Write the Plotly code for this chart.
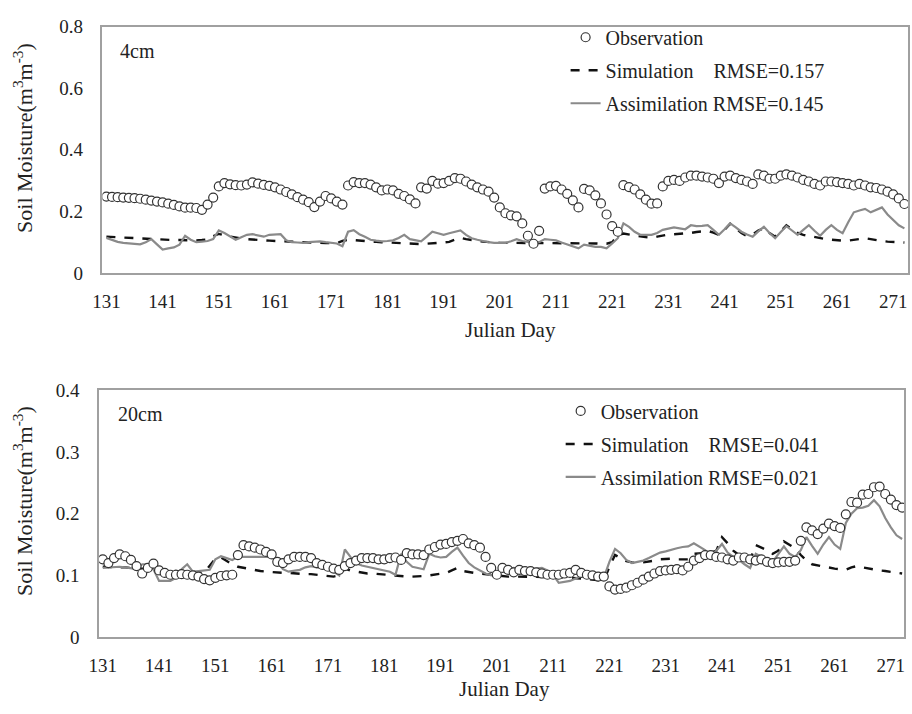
import plotly.graph_objects as go

# Julian days of the growing season (one value per day)
days = list(range(131, 274))

# ---- 4 cm layer ----
obs_4cm = [
    0.248, 0.247, 0.246, 0.245, 0.244, 0.243, 0.241, 0.238, 0.235, 0.232,
    0.229, 0.225, 0.221, 0.216, 0.212, 0.212, 0.211, 0.205, 0.222, 0.245,
    0.281, 0.292, 0.288, 0.285, 0.284, 0.287, 0.294, 0.290, 0.286, 0.283,
    0.278, 0.271, 0.263, 0.255, 0.246, 0.238, 0.230, 0.214, 0.232, 0.250,
    0.242, 0.232, 0.222, 0.284, 0.295, 0.292, 0.292, 0.287, 0.278, 0.268,
    0.271, 0.268, 0.257, 0.250, 0.239, 0.226, 0.278, 0.274, 0.299, 0.290,
    0.292, 0.299, 0.308, 0.306, 0.297, 0.287, 0.278, 0.271, 0.264, 0.245,
    0.213, 0.194, 0.187, 0.184, 0.161, 0.121, 0.095, 0.137, 0.274, 0.281,
    0.283, 0.271, 0.257, 0.236, 0.213, 0.273, 0.268, 0.252, 0.226, 0.190,
    0.152, 0.134, 0.285, 0.279, 0.271, 0.255, 0.238, 0.225, 0.226, 0.281,
    0.299, 0.302, 0.299, 0.310, 0.316, 0.316, 0.313, 0.310, 0.306, 0.292,
    0.313, 0.316, 0.308, 0.302, 0.297, 0.289, 0.320, 0.316, 0.306, 0.306,
    0.316, 0.320, 0.316, 0.310, 0.302, 0.297, 0.289, 0.284, 0.297, 0.297,
    0.295, 0.292, 0.289, 0.284, 0.289, 0.284, 0.278, 0.276, 0.271, 0.264,
    0.255, 0.242, 0.224,
]
sim_4cm = [
    0.118, 0.117, 0.115, 0.114, 0.113, 0.112, 0.111, 0.110, 0.110, 0.109,
    0.108, 0.108, 0.107, 0.107, 0.106, 0.106, 0.106, 0.107, 0.109, 0.120,
    0.127, 0.122, 0.118, 0.114, 0.112, 0.110, 0.108, 0.107, 0.106, 0.105,
    0.104, 0.103, 0.102, 0.101, 0.100, 0.100, 0.099, 0.098, 0.098, 0.097,
    0.097, 0.097, 0.104, 0.108, 0.107, 0.105, 0.104, 0.102, 0.101, 0.100,
    0.099, 0.098, 0.097, 0.096, 0.095, 0.095, 0.094, 0.095, 0.097, 0.098,
    0.099, 0.101, 0.108, 0.114, 0.110, 0.106, 0.104, 0.102, 0.100, 0.099,
    0.098, 0.098, 0.098, 0.098, 0.098, 0.098, 0.098, 0.098, 0.098, 0.097,
    0.097, 0.097, 0.097, 0.096, 0.096, 0.096, 0.096, 0.096, 0.095, 0.095,
    0.100, 0.122, 0.128, 0.126, 0.122, 0.119, 0.116, 0.114, 0.118, 0.122,
    0.125, 0.126, 0.127, 0.128, 0.130, 0.133, 0.136, 0.137, 0.131, 0.124,
    0.140, 0.160, 0.145, 0.130, 0.120, 0.125, 0.138, 0.145, 0.130, 0.118,
    0.135, 0.155, 0.142, 0.130, 0.124, 0.120, 0.116, 0.113, 0.110, 0.108,
    0.106, 0.105, 0.105, 0.107, 0.111, 0.113, 0.110, 0.106, 0.104, 0.102,
    0.101, 0.100, 0.099,
]
assim_4cm = [
    0.114, 0.108, 0.101, 0.098, 0.096, 0.094, 0.093, 0.100, 0.110, 0.093,
    0.076, 0.080, 0.083, 0.092, 0.121, 0.108, 0.100, 0.102, 0.104, 0.110,
    0.138, 0.130, 0.120, 0.108, 0.116, 0.124, 0.126, 0.121, 0.118, 0.124,
    0.124, 0.126, 0.106, 0.100, 0.099, 0.098, 0.100, 0.101, 0.103, 0.100,
    0.098, 0.096, 0.087, 0.134, 0.139, 0.126, 0.118, 0.108, 0.105, 0.103,
    0.104, 0.106, 0.114, 0.124, 0.110, 0.106, 0.103, 0.118, 0.134, 0.129,
    0.124, 0.129, 0.134, 0.138, 0.124, 0.113, 0.108, 0.103, 0.100, 0.098,
    0.098, 0.098, 0.103, 0.110, 0.104, 0.100, 0.098, 0.100, 0.110, 0.108,
    0.106, 0.099, 0.092, 0.085, 0.080, 0.092, 0.088, 0.085, 0.085, 0.080,
    0.096, 0.113, 0.161, 0.150, 0.134, 0.124, 0.124, 0.124, 0.130, 0.140,
    0.144, 0.148, 0.145, 0.142, 0.155, 0.152, 0.153, 0.155, 0.140, 0.124,
    0.142, 0.161, 0.148, 0.134, 0.125, 0.118, 0.135, 0.150, 0.130, 0.113,
    0.133, 0.152, 0.138, 0.124, 0.140, 0.155, 0.137, 0.121, 0.140, 0.155,
    0.140, 0.129, 0.165, 0.197, 0.203, 0.208, 0.197, 0.205, 0.213, 0.190,
    0.171, 0.155, 0.145,
]

# ---- 20 cm layer ----
obs_20cm = [
    0.126, 0.120, 0.128, 0.134, 0.131, 0.125, 0.115, 0.103, 0.112, 0.119,
    0.108, 0.104, 0.101, 0.101, 0.102, 0.101, 0.100, 0.098, 0.094, 0.092,
    0.096, 0.099, 0.100, 0.101, 0.133, 0.149, 0.147, 0.145, 0.142, 0.138,
    0.134, 0.122, 0.120, 0.126, 0.130, 0.130, 0.130, 0.128, 0.120, 0.117,
    0.114, 0.111, 0.109, 0.115, 0.120, 0.124, 0.128, 0.128, 0.128, 0.126,
    0.126, 0.128, 0.129, 0.125, 0.136, 0.134, 0.134, 0.133, 0.142, 0.146,
    0.150, 0.151, 0.154, 0.156, 0.159, 0.152, 0.149, 0.145, 0.130, 0.112,
    0.101, 0.112, 0.109, 0.105, 0.109, 0.107, 0.107, 0.105, 0.103, 0.101,
    0.101, 0.101, 0.103, 0.104, 0.109, 0.104, 0.101, 0.100, 0.098, 0.098,
    0.082, 0.077, 0.078, 0.080, 0.084, 0.088, 0.093, 0.098, 0.103, 0.107,
    0.108, 0.109, 0.110, 0.108, 0.114, 0.124, 0.128, 0.133, 0.133, 0.130,
    0.129, 0.126, 0.124, 0.129, 0.129, 0.126, 0.124, 0.126, 0.122, 0.120,
    0.121, 0.122, 0.122, 0.124, 0.156, 0.178, 0.173, 0.167, 0.176, 0.184,
    0.180, 0.177, 0.199, 0.219, 0.218, 0.231, 0.232, 0.243, 0.244, 0.232,
    0.223, 0.214, 0.210,
]
sim_20cm = [
    0.114, 0.114, 0.113, 0.113, 0.113, 0.112, 0.112, 0.111, 0.110, 0.110,
    0.109, 0.108, 0.108, 0.107, 0.106, 0.105, 0.105, 0.104, 0.104, 0.115,
    0.127, 0.129, 0.123, 0.118, 0.114, 0.112, 0.110, 0.108, 0.107, 0.106,
    0.105, 0.105, 0.104, 0.104, 0.103, 0.103, 0.102, 0.102, 0.101, 0.100,
    0.099, 0.098, 0.100, 0.111, 0.108, 0.106, 0.104, 0.103, 0.103, 0.102,
    0.101, 0.100, 0.099, 0.098, 0.098, 0.098, 0.098, 0.099, 0.100, 0.101,
    0.102, 0.104, 0.108, 0.112, 0.107, 0.105, 0.104, 0.103, 0.102, 0.100,
    0.099, 0.099, 0.098, 0.098, 0.098, 0.098, 0.098, 0.098, 0.098, 0.097,
    0.097, 0.097, 0.097, 0.096, 0.096, 0.095, 0.094, 0.093, 0.092, 0.091,
    0.114, 0.133, 0.128, 0.123, 0.121, 0.120, 0.121, 0.122, 0.124, 0.126,
    0.127, 0.127, 0.126, 0.126, 0.126, 0.135, 0.136, 0.136, 0.137, 0.140,
    0.162, 0.152, 0.140, 0.133, 0.127, 0.125, 0.149, 0.145, 0.141, 0.135,
    0.140, 0.155, 0.150, 0.144, 0.133, 0.124, 0.118, 0.116, 0.114, 0.112,
    0.111, 0.110, 0.109, 0.113, 0.115, 0.113, 0.111, 0.110, 0.108, 0.107,
    0.106, 0.104, 0.103,
]
assim_20cm = [
    0.112, 0.113, 0.114, 0.114, 0.113, 0.111, 0.110, 0.118, 0.118, 0.110,
    0.091, 0.091, 0.091, 0.096, 0.110, 0.118, 0.106, 0.107, 0.108, 0.109,
    0.126, 0.131, 0.128, 0.125, 0.130, 0.130, 0.131, 0.131, 0.130, 0.130,
    0.130, 0.122, 0.110, 0.106, 0.107, 0.109, 0.113, 0.115, 0.113, 0.112,
    0.109, 0.106, 0.100, 0.142, 0.130, 0.120, 0.116, 0.114, 0.112, 0.110,
    0.108, 0.106, 0.101, 0.135, 0.122, 0.114, 0.112, 0.110, 0.135, 0.131,
    0.129, 0.130, 0.138, 0.145, 0.132, 0.120, 0.113, 0.108, 0.103, 0.100,
    0.104, 0.109, 0.110, 0.112, 0.110, 0.108, 0.107, 0.111, 0.112, 0.108,
    0.101, 0.088, 0.090, 0.091, 0.095, 0.099, 0.097, 0.096, 0.096, 0.096,
    0.122, 0.143, 0.136, 0.125, 0.120, 0.122, 0.124, 0.128, 0.133, 0.137,
    0.139, 0.142, 0.144, 0.146, 0.147, 0.152, 0.147, 0.141, 0.133, 0.140,
    0.151, 0.137, 0.130, 0.125, 0.118, 0.112, 0.135, 0.130, 0.126, 0.122,
    0.135, 0.147, 0.135, 0.130, 0.141, 0.162, 0.148, 0.135, 0.150, 0.162,
    0.150, 0.143, 0.185, 0.200, 0.209, 0.210, 0.213, 0.222, 0.212, 0.193,
    0.178, 0.165, 0.159,
]

x_ticks = list(range(131, 272, 10))
rmse = {"4cm": (0.157, 0.145), "20cm": (0.041, 0.021)}

FONT = "Liberation Serif"
TXT = "#222222"
W, H = 912, 714

fig = go.Figure()


def add_panel(obs, sim, assim, xa, ya, legend, tag):
    r_sim, r_assim = rmse[tag]
    nb = "\u00a0"
    fig.add_trace(go.Scatter(
        x=days, y=sim, mode="lines", xaxis=xa, yaxis=ya, legend=legend,
        name=f"Simulation{nb * 4}RMSE={r_sim:.3f}", legendgroup=tag + "s",
        legendrank=2, line=dict(color="#111111", width=2.4, dash="dash"),
    ))
    fig.add_trace(go.Scatter(
        x=days, y=assim, mode="lines", xaxis=xa, yaxis=ya, legend=legend,
        name=f"Assimilation RMSE={r_assim:.3f}", legendgroup=tag + "a",
        legendrank=3, line=dict(color="#8a8a8a", width=2.2),
    ))
    fig.add_trace(go.Scatter(
        x=days, y=obs, mode="markers", xaxis=xa, yaxis=ya, legend=legend,
        name="Observation", legendgroup=tag + "o", legendrank=1,
        marker=dict(symbol="circle", size=9, color="white",
                    line=dict(color="#333333", width=1.2)),
    ))


add_panel(obs_4cm, sim_4cm, assim_4cm, "x", "y", "legend", "4cm")
add_panel(obs_20cm, sim_20cm, assim_20cm, "x2", "y2", "legend2", "20cm")


def px_x(v):
    return v / W


def px_y(v):
    return 1 - v / H


axis_common = dict(
    showline=True, mirror=True, linecolor="#a0a0a0", linewidth=1.5,
    showgrid=False, zeroline=False, ticks="",
    tickfont=dict(family=FONT, size=19, color=TXT),
)

legend_common = dict(
    xanchor="left", yanchor="top", bgcolor="rgba(0,0,0,0)",
    font=dict(family=FONT, size=20, color=TXT),
    traceorder="grouped", tracegroupgap=4, itemwidth=30,
)

fig.update_layout(
    width=W, height=H,
    margin=dict(l=0, r=0, t=0, b=0),
    paper_bgcolor="white", plot_bgcolor="white",
    showlegend=True,
    xaxis=dict(domain=[px_x(92.7), px_x(909.3)], range=[130.3, 273.7],
               tickvals=x_ticks, anchor="y", ticklabelstandoff=10, **axis_common),
    yaxis=dict(domain=[px_y(271), px_y(17)], range=[0, 0.8],
               tickvals=[0, 0.2, 0.4, 0.6, 0.8], anchor="x",
               ticklabelstandoff=14, **axis_common),
    xaxis2=dict(domain=[px_x(89.3), px_x(905)], range=[130.35, 273.35],
                tickvals=x_ticks, anchor="y2", ticklabelstandoff=10, **axis_common),
    yaxis2=dict(domain=[px_y(646), px_y(392)], range=[0, 0.4],
                tickvals=[0, 0.1, 0.2, 0.3, 0.4], anchor="x2",
                ticklabelstandoff=14, **axis_common),
    legend=dict(x=px_x(562), y=px_y(8), **legend_common),
    legend2=dict(x=px_x(557), y=px_y(393), **legend_common),
)

ytitle = "Soil Moisture(m<sup>3</sup>m<sup>-3</sup>)"
notes = [
    ("4cm", 128, 42, 0, 20),
    ("20cm", 131, 416, 0, 20),
    ("Julian Day", 506, 330, 0, 21),
    ("Julian Day", 500, 700, 0, 21),
    (ytitle, 12, 132, -90, 22),
    (ytitle, 12, 506, -90, 22),
]
for text, x, y, ang, size in notes:
    fig.add_annotation(
        text=text, x=px_x(x), y=px_y(y), xref="paper", yref="paper",
        xanchor="center", yanchor="middle", showarrow=False, textangle=ang,
        font=dict(family=FONT, size=size, color=TXT),
    )

fig.write_html("out.html")
